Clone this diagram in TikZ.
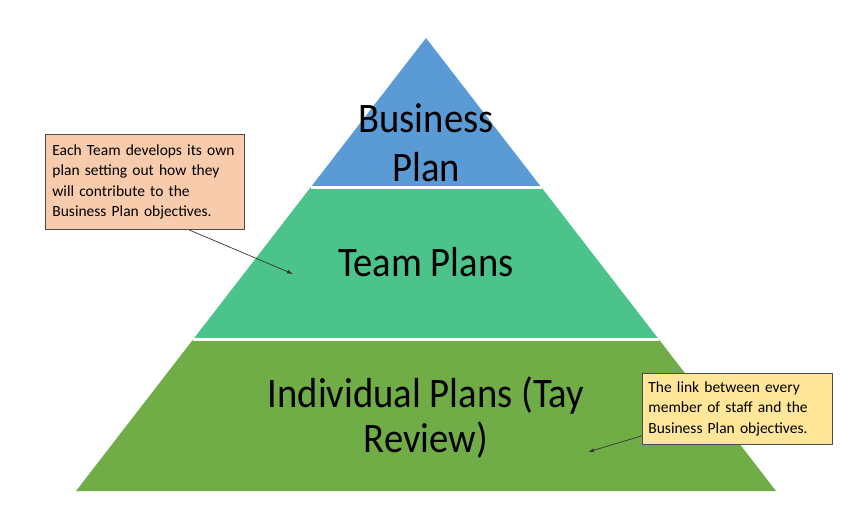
\documentclass[tikz,border=0pt]{standalone}
\usepackage{fontspec}
\setmainfont{Carlito}
\newfontfamily\pyrfont{Carlito}[FakeStretch=0.92]
\usetikzlibrary{arrows.meta,calc}
\definecolor{bizblue}{HTML}{5B9BD5}
\definecolor{teamgreen}{HTML}{4CC38A}
\definecolor{indgreen}{HTML}{70AD47}
\definecolor{notepeach}{HTML}{F8CBAD}
\definecolor{noteyellow}{HTML}{FFE699}

\begin{document}
\begin{tikzpicture}[x=1pt,y=-1pt,
  layer/.style={font=\pyrfont\fontsize{42}{49}\selectfont,align=center,anchor=base},
  note/.style={draw=black!70,line width=0.8pt,anchor=north west,font=\fontsize{15.5}{20.5}\selectfont,align=left,inner xsep=7pt,inner ysep=0pt},
  pointer/.style={-{Latex[length=6pt,width=4pt]},line width=0.7pt,black!80}]
  \useasboundingbox (0,0) rectangle (852,529);
  % pyramid
  \coordinate (apex) at (426,38);
  \coordinate (bl) at (76,491);
  \coordinate (br) at (776,491);
  \fill[bizblue] (apex) -- ($(apex)!0.33!(bl)$) -- ($(apex)!0.33!(br)$) -- cycle;
  \fill[teamgreen] ($(apex)!0.33!(bl)$) -- ($(apex)!0.6656!(bl)$) -- ($(apex)!0.6656!(br)$) -- ($(apex)!0.33!(br)$) -- cycle;
  \fill[indgreen] ($(apex)!0.6656!(bl)$) -- (bl) -- (br) -- ($(apex)!0.6656!(br)$) -- cycle;
  \draw[white,line width=2.5pt] ($(apex)!0.33!(bl)$) -- ($(apex)!0.33!(br)$);
  \draw[white,line width=2.5pt] ($(apex)!0.6656!(bl)$) -- ($(apex)!0.6656!(br)$);
  % base anchor = last line
  \node[layer] (biz) at (426,182) {Business\\Plan};
  \node[layer] (team) at (426,277) {Team Plans};
  \node[layer,font=\pyrfont\fontsize{42}{44}\selectfont] (ind) at (426,452) {Individual Plans (Tay\\Review)};
  % callouts
  \node[note,fill=notepeach,text width=185pt,minimum height=95pt] (note1) at (45,134)
    {Each Team develops its own\\plan setting out how they\\will contribute to the\\Business Plan objectives.};
  \node[note,fill=noteyellow,text width=178pt,minimum height=71pt,inner xsep=6pt] (note2) at (642,373)
    {The link between every\\member of staff and the\\Business Plan objectives.};
  \coordinate (tip1) at (293,274);
  \coordinate (tip2) at (588,452);
  \draw[pointer] ($(note1.south west)!0.72!(note1.south east)$) -- (tip1);
  \draw[pointer] ($(note2.south west)+(0,-9)$) -- (tip2);
\end{tikzpicture}
\end{document}
